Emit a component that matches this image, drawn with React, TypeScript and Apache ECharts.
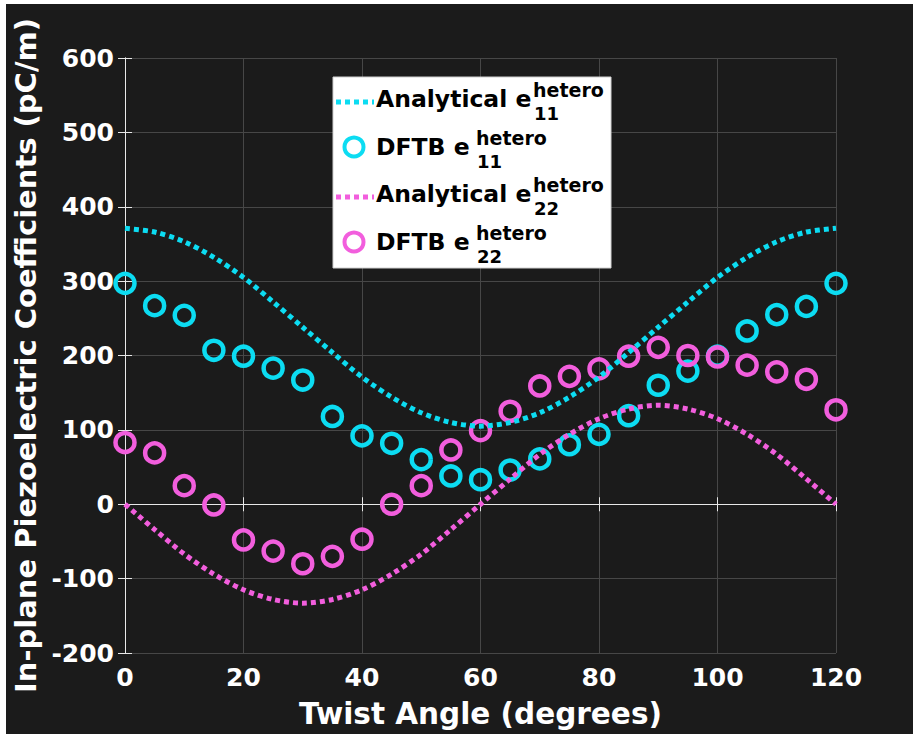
import React, { useEffect, useRef } from "react";
import * as echarts from "echarts";

const angles = [0, 5, 10, 15, 20, 25, 30, 35, 40, 45, 50, 55, 60, 65, 70, 75, 80, 85, 90, 95, 100, 105, 110, 115, 120];
const analytical11 = [371, 366, 353, 332, 305, 272, 238, 204, 171, 144, 123, 110, 105, 110, 123, 144, 171, 204, 238, 272, 305, 332, 353, 366, 371];
const analytical22 = [0, -34, -67, -94, -115, -128, -133, -128, -115, -94, -67, -34, 0, 34, 67, 94, 115, 128, 133, 128, 115, 94, 67, 34, 0];
const dftb11 = [297, 267, 254, 207, 199, 183, 167, 118, 92, 82, 60, 38, 33, 46, 61, 80, 94, 119, 160, 179, 199, 233, 255, 266, 297];
const dftb22 = [83, 69, 25, -1, -48, -63, -80, -70, -47, 0, 25, 73, 99, 125, 159, 172, 182, 199, 211, 200, 198, 187, 178, 168, 127];

const legendMain = ["Analytical e", "DFTB e", "Analytical e", "DFTB e"];
const legendSup = ["hetero", "hetero", "hetero", "hetero"];
const legendSub = ["11", "11", "22", "22"];

const CYAN = "#0cdcf2";
const MAGENTA = "#f25edd";
const FONT = "DejaVu Sans";

export default function App() {
  const ref = useRef<HTMLDivElement>(null);
  useEffect(() => {
    document.body.style.margin = "0";
    const chart = echarts.init(ref.current!, null, { renderer: "svg" });
    const pairs = (ys: number[]) => angles.map((a, i) => [a, ys[i]]);
    const axisColor = "#e8e8e8";
    const tickStyle = { show: true, inside: true, length: 7, lineStyle: { color: axisColor, width: 1 } };

    const rowBase = [107, 155, 202, 250];
    const supX = [533, 476, 533, 476];
    const colors = [CYAN, CYAN, MAGENTA, MAGENTA];
    const legendEls: any[] = [
      { type: "rect", shape: { x: 333, y: 77, width: 278, height: 191 }, style: { fill: "#ffffff", stroke: "#d0d0d0", lineWidth: 1 }, z: 100 },
    ];
    for (let i = 0; i < 4; i++) {
      const B = rowBase[i];
      if (i % 2 === 0) {
        legendEls.push({
          type: "line",
          shape: { x1: 336, y1: B - 5, x2: 374, y2: B - 5 },
          style: { stroke: colors[i], lineWidth: 5, lineDash: [5, 4] },
          z: 101,
        });
      } else {
        legendEls.push({
          type: "circle",
          shape: { cx: 354, cy: B - 8, r: 9.5 },
          style: { fill: "none", stroke: colors[i], lineWidth: 4 },
          z: 101,
        });
      }
      legendEls.push({
        type: "text",
        x: 376,
        y: B - 0.35 * 23.5,
        style: { text: legendMain[i], fill: "#000", font: `bold 23.5px "${FONT}"`, textVerticalAlign: "middle", textAlign: "left" },
        z: 101,
      });
      legendEls.push({
        type: "text",
        x: supX[i],
        y: B - 10 - 0.35 * 19,
        style: { text: legendSup[i], fill: "#000", font: `bold 19px "${FONT}"`, textVerticalAlign: "middle", textAlign: "left" },
        z: 101,
      });
      legendEls.push({
        type: "text",
        x: supX[i] + 1,
        y: B + 13 - 0.35 * 18,
        style: { text: legendSub[i], fill: "#000", font: `bold 18px "${FONT}"`, textVerticalAlign: "middle", textAlign: "left" },
        z: 101,
      });
    }

    chart.setOption({
      animation: false,
      backgroundColor: "#1b1b1b",
      textStyle: { fontFamily: FONT },
      grid: { left: 125, top: 58, width: 711, height: 599, containLabel: false },
      xAxis: [
        {
          type: "value",
          min: 0,
          max: 120,
          interval: 20,
          name: "Twist Angle (degrees)",
          nameLocation: "middle",
          nameGap: 46,
          nameTextStyle: { color: "#ffffff", fontSize: 29.5, fontWeight: "bold", fontFamily: FONT },
          axisLine: { show: true, lineStyle: { color: axisColor, width: 1 } },
          axisTick: tickStyle,
          axisLabel: { color: "#ffffff", fontSize: 25, fontWeight: "bold", fontFamily: FONT, margin: 12 },
          splitLine: { show: true, lineStyle: { color: "#474747", width: 1 } },
        },
        {
          type: "value",
          position: "top",
          min: 0,
          max: 120,
          interval: 20,
          axisLine: { show: true, lineStyle: { color: axisColor, width: 1 } },
          axisTick: tickStyle,
          axisLabel: { show: false },
          splitLine: { show: false },
        },
      ],
      yAxis: [
        {
          type: "value",
          min: -200,
          max: 600,
          interval: 100,
          name: "In-plane Piezoelectric Coefficients (pC/m)",
          nameLocation: "middle",
          nameGap: 85,
          nameRotate: 90,
          nameTextStyle: { color: "#ffffff", fontSize: 29, fontWeight: "bold", fontFamily: FONT },
          axisLine: { show: true, lineStyle: { color: axisColor, width: 1 } },
          axisTick: tickStyle,
          axisLabel: { color: "#ffffff", fontSize: 25, fontWeight: "bold", fontFamily: FONT, margin: 11 },
          splitLine: { show: true, lineStyle: { color: "#474747", width: 1 } },
        },
        {
          type: "value",
          position: "right",
          min: -200,
          max: 600,
          interval: 100,
          axisLine: { show: true, lineStyle: { color: axisColor, width: 1 } },
          axisTick: tickStyle,
          axisLabel: { show: false },
          splitLine: { show: false },
        },
      ],
      series: [
        {
          name: "Analytical e11",
          type: "line",
          data: pairs(analytical11),
          smooth: 0.3,
          showSymbol: false,
          lineStyle: { color: CYAN, width: 5, type: [5, 4] },
        },
        {
          name: "DFTB e11",
          type: "scatter",
          data: pairs(dftb11),
          symbol: "circle",
          symbolSize: 19,
          itemStyle: { color: "rgba(0,0,0,0)", borderColor: CYAN, borderWidth: 4.5, opacity: 1 },
        },
        {
          name: "Analytical e22",
          type: "line",
          data: pairs(analytical22),
          smooth: 0.3,
          showSymbol: false,
          lineStyle: { color: MAGENTA, width: 5, type: [5, 4] },
        },
        {
          name: "DFTB e22",
          type: "scatter",
          data: pairs(dftb22),
          symbol: "circle",
          symbolSize: 19,
          itemStyle: { color: "rgba(0,0,0,0)", borderColor: MAGENTA, borderWidth: 4.5, opacity: 1 },
        },
      ],
      graphic: [
        { type: "rect", shape: { x: 0, y: 0, width: 6, height: 734 }, style: { fill: "#ffffff" }, z: 100 },
        { type: "rect", shape: { x: 0, y: 0, width: 913, height: 4 }, style: { fill: "#ffffff" }, z: 100 },
        ...legendEls,
      ],
    });
    return () => chart.dispose();
  }, []);
  return <div ref={ref} style={{ width: 913, height: 734 }} />;
}
